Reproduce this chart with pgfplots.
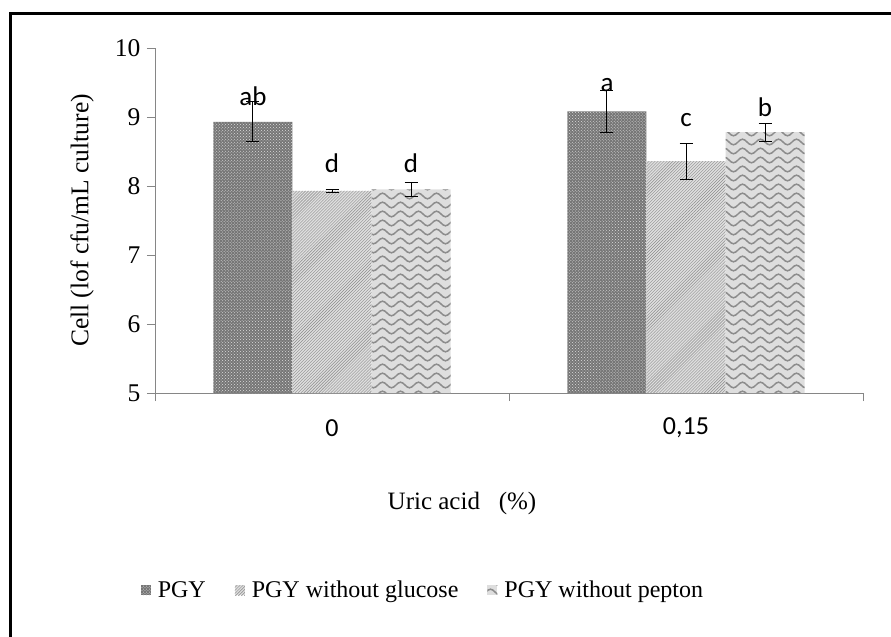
\documentclass[border=0pt]{standalone}
\usepackage{pgfplots}
\pgfplotsset{compat=1.18}
\usepackage{fontspec}
\setmainfont{Liberation Serif}
\newfontfamily\calib{Carlito}
\usetikzlibrary{patterns,patterns.meta}

\definecolor{axgray}{RGB}{134,134,134}
\definecolor{darkbar}{RGB}{118,118,118}
\definecolor{lightbar}{RGB}{222,222,222}
\definecolor{linegray}{RGB}{140,140,140}

\tikzdeclarepattern{
  name=waves,
  type=uncolored,
  bounding box={(0,-4.5bp) and (18bp,4.5bp)},
  tile size={(18bp,9bp)},
  code={
    \draw[line width=1.5bp] (0,0) sin (4.5bp,2.8bp) cos (9bp,0) sin (13.5bp,-2.8bp) cos (18bp,0);
  }
}

\pgfplotstableread{
x    y     e
0.5  8.93  0.29
1.5  9.08  0.30
}\pgy
\pgfplotstableread{
x    y     e
0.5  7.93  0.02
1.5  8.36  0.26
}\noglu
\pgfplotstableread{
x    y     e
0.5  7.95  0.10
1.5  8.78  0.13
}\nopep

\begin{document}
\begin{tikzpicture}
\path[use as bounding box] (0,0) rectangle (891bp,-637bp);
\draw[line width=3bp] (10bp,-640bp) -- (10bp,-13bp) -- (895bp,-13bp);
\begin{axis}[
  at={(155bp,-393bp)}, anchor=south west,
  scale only axis,
  width=708bp, height=345bp,
  xmin=0, xmax=2,
  ymin=5, ymax=10,
  ytick={5,6,7,8,9,10},
  yticklabels={5,6,7,8,9,10},
  xtick={0.5,1.5},
  xticklabels={0,{0,15}},
  minor xtick={0,1,2},
  axis x line=bottom, axis y line=left,
  axis line style={-, axgray, line width=0.8bp},
  tick align=outside,
  major tick length=8bp,
  minor tick length=8bp,
  x tick style={draw=none},
  minor x tick style={draw=axgray, line width=0.8bp},
  y tick style={axgray, line width=0.8bp},
  yticklabel style={font=\fontsize{25.5bp}{29bp}\selectfont, xshift=-3bp},
  xticklabel style={font=\calib\fontsize{26bp}{30bp}\selectfont, anchor=center, yshift=-27bp},
  xlabel={Uric acid \ \ (\%)},
  ylabel={Cell (lof cfu/mL culture)},
  xlabel style={at={(axis description cs:0.4336,-0.319)}, anchor=center, font=\fontsize{25bp}{29bp}\selectfont},
  ylabel style={at={(axis description cs:-0.1031,0.5)}, anchor=center, font=\fontsize{25.5bp}{29bp}\selectfont},
  ybar=0pt,
  bar width=0.2232,
  legend columns=-1,
  legend style={at={(axis description cs:0.3785,-0.571)}, anchor=center, draw=none,
    font=\fontsize{24bp}{28bp}\selectfont,
    /tikz/every odd column/.append style={column sep=5bp},
    /tikz/every even column/.append style={column sep=27bp}},
  legend image code/.code={\draw[#1, draw=none] (0bp,-5bp) rectangle (10bp,5bp);},
  error bars/y dir=both, error bars/y explicit,
  error bars/error bar style={black, line width=1bp},
  error bars/error mark options={black, line width=1bp, mark size=6.5bp, rotate=90},
]
\addplot[draw=none, fill=darkbar, postaction={pattern=crosshatch dots, pattern color=white!75!darkbar}]
  table[x=x, y=y, y error=e] {\pgy};
\addplot[draw=none, fill=lightbar, postaction={pattern=north east lines, pattern color=linegray}]
  table[x=x, y=y, y error=e] {\noglu};
\addplot[draw=none, fill=lightbar, postaction={pattern=waves, pattern color=linegray}]
  table[x=x, y=y, y error=e] {\nopep};
\legend{PGY, PGY without glucose, PGY without pepton}
\node[font=\calib\fontsize{27bp}{31bp}\selectfont] at (axis cs:0.2768,9.30) {ab};
\node[font=\calib\fontsize{27bp}{31bp}\selectfont] at (axis cs:0.5,8.33) {d};
\node[font=\calib\fontsize{27bp}{31bp}\selectfont] at (axis cs:0.7232,8.33) {d};
\node[font=\calib\fontsize{27bp}{31bp}\selectfont] at (axis cs:1.2768,9.46) {a};
\node[font=\calib\fontsize{27bp}{31bp}\selectfont] at (axis cs:1.5,8.96) {c};
\node[font=\calib\fontsize{27bp}{31bp}\selectfont] at (axis cs:1.7232,9.14) {b};
\end{axis}
\end{tikzpicture}
\end{document}
